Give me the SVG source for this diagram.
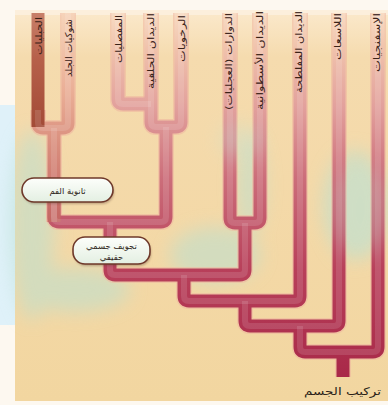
<svg xmlns="http://www.w3.org/2000/svg" width="388" height="405" viewBox="0 0 388 405">
  <defs>
    <linearGradient id="gPanel" x1="0" y1="0" x2="0" y2="1">
      <stop offset="0" stop-color="#fbe9cc"/>
      <stop offset="0.12" stop-color="#f5dbae"/>
      <stop offset="1" stop-color="#f2d6a0"/>
    </linearGradient>
    <linearGradient id="gTube" gradientUnits="userSpaceOnUse" x1="0" y1="12" x2="0" y2="380">
      <stop offset="0" stop-color="#f8dcc4"/>
      <stop offset="0.1" stop-color="#f0c2ac"/>
      <stop offset="0.26" stop-color="#e2a09c"/>
      <stop offset="0.45" stop-color="#cc6e7a"/>
      <stop offset="0.7" stop-color="#b8405a"/>
      <stop offset="1" stop-color="#a82848"/>
    </linearGradient>
    <linearGradient id="gDeut" gradientUnits="userSpaceOnUse" x1="0" y1="12" x2="0" y2="240">
      <stop offset="0" stop-color="#f6d4ba"/>
      <stop offset="0.35" stop-color="#eaae96"/>
      <stop offset="0.6" stop-color="#d88c7c"/>
      <stop offset="1" stop-color="#bf5c5c"/>
    </linearGradient>
    <linearGradient id="gChord" gradientUnits="userSpaceOnUse" x1="0" y1="12" x2="0" y2="130">
      <stop offset="0" stop-color="#c8806a"/>
      <stop offset="0.4" stop-color="#b6604a"/>
      <stop offset="1" stop-color="#a24a36"/>
    </linearGradient>
    <linearGradient id="gBox" x1="0" y1="0" x2="0" y2="1">
      <stop offset="0" stop-color="#fdfefb"/>
      <stop offset="1" stop-color="#e3efe2"/>
    </linearGradient>
    <filter id="soft" x="-50%" y="-50%" width="200%" height="200%">
      <feGaussianBlur stdDeviation="9"/>
    </filter>
    <filter id="edge" x="-10%" y="-10%" width="120%" height="120%">
      <feGaussianBlur stdDeviation="0.6"/>
    </filter>
    <filter id="shadow" x="-20%" y="-40%" width="140%" height="180%">
      <feGaussianBlur stdDeviation="1.2"/>
    </filter>

    <!-- branch centrelines -->
    <path id="pEch" d="M38,110 V123 Q38,128 43,128 H63 Q68,128 68,123 V13"/>
    <path id="pDeutStem" d="M54,128 V222"/>
    <path id="pChord" d="M38,13 V127"/>
    <path id="pArth" d="M118,13 V99 Q118,104 123,104 H151"/>
    <path id="pProt" d="M151,13 V122 Q151,127 156,127 H176 Q181,127 181,122 V13"/>
    <path id="pCoel" d="M54,200 V217 Q54,222 59,222 H161 Q166,222 166,217 V127"/>
    <path id="pCoelStem" d="M110,222 V270 Q110,275 115,275 H240 Q245,275 245,270 V223"/>
    <path id="pPseudo" d="M230,13 V218 Q230,223 235,223 H255 Q260,223 260,218 V13"/>
    <path id="pFlat" d="M184,275 V296 Q184,301 189,301 H295 Q300,301 300,296 V13"/>
    <path id="pCnid" d="M245,301 V321 Q245,326 250,326 H334 Q339,326 339,321 V13"/>
    <path id="pSpong" d="M300,326 V347 Q300,352 305,352 H373 Q378,352 378,347 V13"/>
    <path id="pRoot" d="M343,352 V377"/>
  </defs>

  <style>
    .tube { fill: none; stroke-width: 13; stroke-linejoin: round; stroke-linecap: butt; }
    .t { stroke: url(#gTube); }
    .d { stroke: url(#gDeut); }
    .c { stroke: url(#gChord); }
    .halo { fill: none; stroke: #eeb49e; stroke-opacity: 0.55; stroke-width: 16; stroke-linejoin: round; }
    .shine { fill: none; stroke: #ffffff; stroke-opacity: 0.12; stroke-width: 6; stroke-linejoin: round; }
    .taxon { font-family: "DejaVu Sans", sans-serif; font-size: 9.5px; fill: #3a2218; }
    .box { fill: url(#gBox); stroke: #6e382a; stroke-width: 1.6; }
    .boxtxt { font-family: "DejaVu Sans", sans-serif; font-size: 8.5px; fill: #2e2620; text-anchor: middle; }
    .title { font-family: "DejaVu Sans", sans-serif; font-size: 10.5px; fill: #2a1e18; }
  </style>

  <!-- page and panel -->
  <rect x="0" y="0" width="388" height="405" fill="#fdf8f0"/>
  <rect x="0" y="105" width="16" height="220" fill="#dff1f9"/>
  <rect x="15" y="10" width="373" height="391" fill="url(#gPanel)"/>
  <rect x="15" y="10" width="373" height="5" fill="#fcefdc"/>

  <!-- soft green-blue wash behind the tree -->
  <g id="wash" fill="#b9e0d2" opacity="0.55" filter="url(#soft)">
    <ellipse cx="32" cy="225" rx="22" ry="95"/>
    <ellipse cx="75" cy="290" rx="55" ry="22"/>
    <ellipse cx="215" cy="255" rx="45" ry="28"/>
    <ellipse cx="250" cy="185" rx="14" ry="50"/>
    <ellipse cx="355" cy="205" rx="32" ry="55"/>
  </g>

  <!-- branches -->
  <g id="connectors">
    <g filter="url(#edge)">
      <use href="#pEch" class="halo"/>
      <use href="#pDeutStem" class="halo"/>
      <use href="#pArth" class="halo"/>
      <use href="#pProt" class="halo"/>
      <use href="#pCoel" class="halo"/>
      <use href="#pCoelStem" class="halo"/>
      <use href="#pPseudo" class="halo"/>
      <use href="#pFlat" class="halo"/>
      <use href="#pCnid" class="halo"/>
      <use href="#pSpong" class="halo"/>
      <use href="#pRoot" class="halo"/>
    </g>
    <use href="#pRoot" class="tube t"/>
    <use href="#pSpong" class="tube t"/>
    <use href="#pCnid" class="tube t"/>
    <use href="#pFlat" class="tube t"/>
    <use href="#pPseudo" class="tube t"/>
    <use href="#pCoelStem" class="tube t"/>
    <use href="#pCoel" class="tube t"/>
    <use href="#pProt" class="tube t"/>
    <use href="#pArth" class="tube t"/>
    <use href="#pDeutStem" class="tube d"/>
    <use href="#pEch" class="tube d"/>
    <use href="#pChord" class="tube c"/>
    <g>
      <use href="#pSpong" class="shine"/>
      <use href="#pCnid" class="shine"/>
      <use href="#pFlat" class="shine"/>
      <use href="#pPseudo" class="shine"/>
      <use href="#pCoelStem" class="shine"/>
      <use href="#pCoel" class="shine"/>
      <use href="#pProt" class="shine"/>
      <use href="#pArth" class="shine"/>
      <use href="#pDeutStem" class="shine"/>
      <use href="#pEch" class="shine"/>
    </g>
  </g>

  <!-- a light haze that also drifts over some branches -->
  <g fill="#c4e4d6" opacity="0.28" filter="url(#soft)">
    <ellipse cx="360" cy="210" rx="26" ry="45"/>
    <ellipse cx="240" cy="140" rx="22" ry="18"/>
  </g>

  <!-- taxa, written downward along each branch -->
  <g id="chordata"><text class="taxon" text-anchor="end" transform="translate(41.5,17) rotate(-90)" textLength="38" lengthAdjust="spacingAndGlyphs">الحبليات</text></g>
  <g id="echinodermata"><text class="taxon" text-anchor="end" transform="translate(71.5,19) rotate(-90)" textLength="58" lengthAdjust="spacingAndGlyphs">شوكيات الجلد</text></g>
  <g id="arthropoda"><text class="taxon" text-anchor="end" transform="translate(121.5,15) rotate(-90)" textLength="48" lengthAdjust="spacingAndGlyphs">المفصليات</text></g>
  <g id="annelida"><text class="taxon" text-anchor="end" transform="translate(153.5,13) rotate(-90)" textLength="76" lengthAdjust="spacingAndGlyphs">الديدان الحلقية</text></g>
  <g id="mollusca"><text class="taxon" text-anchor="end" transform="translate(184.5,15) rotate(-90)" textLength="47" lengthAdjust="spacingAndGlyphs">الرخويات</text></g>
  <g id="rotifera"><text class="taxon" text-anchor="end" transform="translate(232,13) rotate(-90)" textLength="97" lengthAdjust="spacingAndGlyphs">الدوارات (العجليات)</text></g>
  <g id="nematoda"><text class="taxon" text-anchor="end" transform="translate(263,11) rotate(-90)" textLength="99" lengthAdjust="spacingAndGlyphs">الديدان الأسطوانية</text></g>
  <g id="platyhelminthes"><text class="taxon" text-anchor="end" transform="translate(302,11) rotate(-90)" textLength="82" lengthAdjust="spacingAndGlyphs">الديدان المفلطحة</text></g>
  <g id="cnidaria"><text class="taxon" text-anchor="end" transform="translate(341,13) rotate(-90)" textLength="47" lengthAdjust="spacingAndGlyphs">اللاسعات</text></g>
  <g id="porifera"><text class="taxon" text-anchor="end" transform="translate(379.5,13) rotate(-90)" textLength="59" lengthAdjust="spacingAndGlyphs">الإسفنجيات</text></g>

  <!-- character boxes -->
  <g id="deuterostome">
    <rect x="23" y="180" width="91" height="24" rx="12" fill="#5a3a30" opacity="0.35" filter="url(#shadow)"/>
    <rect class="box" x="22" y="178" width="91" height="24" rx="12"/>
    <text class="boxtxt" x="67.5" y="193.5">ثانوية الفم</text>
  </g>
  <g id="coelom">
    <rect x="74" y="239" width="77" height="27" rx="12" fill="#5a3a30" opacity="0.35" filter="url(#shadow)"/>
    <rect class="box" x="73" y="237" width="77" height="27" rx="12"/>
    <text class="boxtxt" x="111.5" y="248.5">تجويف جسمي</text>
    <text class="boxtxt" x="111.5" y="259.5">حقيقي</text>
  </g>

  <!-- axis caption -->
  <g id="body-plan"><text class="title" x="381" y="395" text-anchor="end" textLength="77" lengthAdjust="spacingAndGlyphs">تركيب الجسم</text></g>
</svg>
